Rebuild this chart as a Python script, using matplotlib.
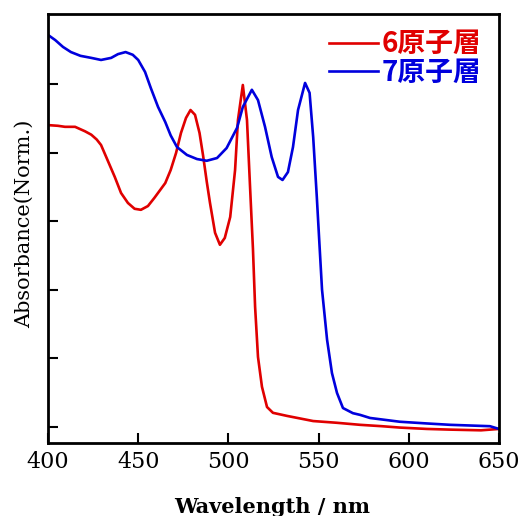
import matplotlib
matplotlib.use("Agg")
import matplotlib.pyplot as plt

# Data
wl_6 = [400, 405.5, 409.4, 415, 420.5, 424, 427, 429.4, 433, 437, 440.5, 444.3, 448, 451.5, 455.4, 459, 465, 468, 471, 473.7, 476.5, 479, 481.5, 484, 486, 488, 489.8, 492.6, 495.3, 498, 501, 503.7, 505.3, 508, 510.3, 512, 513.6, 514.8, 516.4, 518.6, 521.4, 524.7, 532.5, 547, 560, 573, 585, 595, 610, 623, 640, 650]
abs_6 = [0.880, 0.878, 0.875, 0.875, 0.862, 0.852, 0.838, 0.822, 0.778, 0.729, 0.682, 0.653, 0.636, 0.633, 0.644, 0.668, 0.711, 0.749, 0.799, 0.857, 0.901, 0.924, 0.910, 0.857, 0.790, 0.715, 0.653, 0.566, 0.531, 0.551, 0.612, 0.749, 0.895, 0.997, 0.895, 0.700, 0.520, 0.350, 0.204, 0.117, 0.058, 0.041, 0.032, 0.017, 0.012, 0.006, 0.002, -0.002, -0.006, -0.008, -0.010, -0.006]

wl_7 = [400, 404, 408.3, 412.7, 418, 424, 429.4, 435, 438.8, 443, 447, 450, 453.8, 457, 461, 465, 468, 471.5, 477, 482.6, 488, 493.7, 499, 504.8, 508, 513, 516.4, 520.3, 524, 527.5, 530, 533, 535.8, 538.6, 542.5, 545, 547, 549, 550.5, 551.9, 554.7, 557.4, 560.2, 563.5, 569, 573, 578.5, 595, 610, 623, 639.5, 645, 650]
abs_7 = [1.143, 1.128, 1.108, 1.093, 1.082, 1.076, 1.070, 1.076, 1.087, 1.093, 1.085, 1.070, 1.035, 0.988, 0.933, 0.889, 0.850, 0.816, 0.793, 0.781, 0.776, 0.784, 0.813, 0.872, 0.933, 0.983, 0.953, 0.875, 0.787, 0.729, 0.720, 0.743, 0.816, 0.924, 1.003, 0.974, 0.845, 0.671, 0.530, 0.400, 0.254, 0.157, 0.099, 0.055, 0.040, 0.035, 0.026, 0.015, 0.010, 0.006, 0.003, 0.002, -0.006]

labels = ["6原子層", "7原子層"]
colors = ["#e00000", "#0000dd"]
xticks = [400, 450, 500, 550, 600, 650]
yticks = [0, 0.2, 0.4, 0.6, 0.8, 1.0]

fig = plt.figure(figsize=(5.26, 5.16), dpi=100)
ax = fig.add_axes([48/526, 1 - 443/516, 451/526, 429/516])

ax.plot(wl_6, abs_6, color=colors[0], lw=1.9, label=labels[0], solid_joinstyle="round")
ax.plot(wl_7, abs_7, color=colors[1], lw=1.9, label=labels[1], solid_joinstyle="round")

ax.set_xlim(400, 650)
ax.set_ylim(-0.047, 1.204)
ax.set_xticks(xticks)
ax.set_xticklabels([str(v) for v in xticks], family="DejaVu Serif", fontsize=16)
ax.set_yticks(yticks)
ax.set_yticklabels([])
ax.tick_params(direction="in", length=7, width=1.5, top=False, right=False, pad=6)
for s in ax.spines.values():
    s.set_linewidth(2.0)

fig.text(272/526, 1 - 507/516, "Wavelength / nm", family="DejaVu Serif", fontweight="bold",
         fontsize=15, ha="center", va="center")
fig.text(24/526, 1 - 224/516, "Absorbance(Norm.)", family="DejaVu Serif",
         fontsize=15, ha="center", va="center", rotation=90)

leg = ax.legend(loc="upper right", bbox_to_anchor=(1.015, 1.02), frameon=False,
                handlelength=1.75, handletextpad=0.12, labelspacing=0.02,
                prop={"family": ["Noto Sans CJK JP", "DejaVu Sans"], "weight": "bold", "size": 20})
for t, c in zip(leg.get_texts(), colors):
    t.set_color(c)

fig.savefig("out.png", dpi=100)
